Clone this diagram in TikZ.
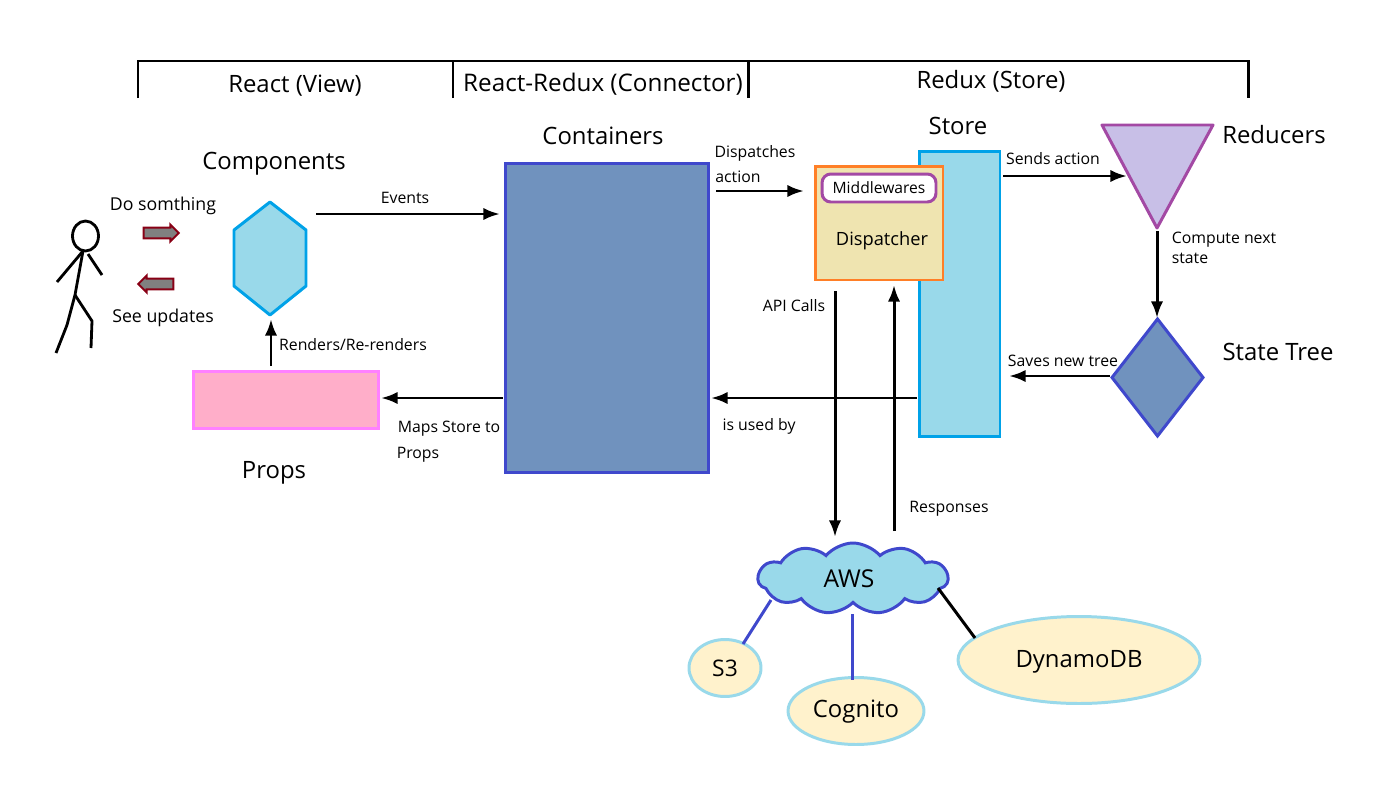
\documentclass[tikz,border=0pt]{standalone}
\usepackage{fontspec}
\setmainfont{Open Sans}
\usetikzlibrary{arrows.meta,shapes.geometric,shapes.symbols,shapes.arrows}
\definecolor{skyfill}{HTML}{99D9EA}
\definecolor{skyline}{HTML}{00A2E8}
\definecolor{steelfill}{HTML}{7092BE}
\definecolor{indigoline}{HTML}{3F48CC}
\definecolor{creamfill}{HTML}{FFF2CC}
\definecolor{sandfill}{HTML}{EFE4B0}
\definecolor{orangeline}{HTML}{FF7F27}
\definecolor{purpleline}{HTML}{A349A4}
\definecolor{lilacfill}{HTML}{C8BFE7}
\definecolor{pinkfill}{HTML}{FFAEC9}
\definecolor{pinkline}{HTML}{FF80FF}
\definecolor{darkred}{HTML}{880015}
\tikzset{
  big/.style={font=\fontsize{13.6}{16}\selectfont,inner sep=0pt},
  small/.style={font=\fontsize{9}{11}\selectfont,inner sep=0pt},
  mid/.style={font=\fontsize{10.1}{12}\selectfont,inner sep=0pt},
  conn/.style={-{Latex[length=9.5pt,width=7pt]},line width=1.7pt},
  solidbox/.style={draw,line width=1.7pt,inner sep=0pt,outer sep=0pt},
  ovalbox/.style={solidbox,ellipse,draw=skyfill,fill=creamfill,font=\fontsize{13.6}{16}\selectfont},
  hand/.style={single arrow,draw=darkred,fill=gray,line width=1.2pt,minimum width=9.5pt,minimum height=20pt,single arrow head extend=1pt,inner sep=1.2pt},
  stick/.style={line width=1.6pt},
  link/.style={line width=1.7pt},
}
\begin{document}
\begin{tikzpicture}[x=0.02cm,y=-0.02cm]
    \useasboundingbox (0,0) rectangle (1393,788);

    % layer bracket
    \coordinate (bracketA) at (138,98);
    \coordinate (bracketB) at (1248,98);
    \coordinate (tickA) at (453,98);
    \coordinate (tickB) at (748,98);
    \draw[link] (bracketA)--(138,61)--(1248,61)--(bracketB);
    \draw[link] (tickA)--(453,61);
    \draw[link] (tickB)--(748,61);
    \node[big] (viewTitle) at (295,86) {React (View)};
    \node[big,font=\fontsize{13.8}{16}\selectfont] (connTitle) at (603,84) {React-Redux (Connector)};
    \node[big] (storeLayer) at (991,81) {Redux (Store)};

    % user
    \draw[stick] (85.5,236) ellipse (13 and 15);
    \draw[stick] (83,251)--(57,282);
    \draw[stick] (88,254)--(102,275);
    \draw[stick] (83,251)--(75,295)--(67,325)--(56,353);
    \draw[stick] (75,295)--(92,321)--(91,348);
    \node[mid] (doLabel) at (163,206) {Do somthing};
    \node[mid] (seeLabel) at (163,318) {See updates};
    \node[hand] (doArrow) at (158.5,233) {};
    \node[hand,shape border rotate=180] (seeArrow) at (158.5,284) {};

    % components
    \node[big] (compTitle) at (274,164) {Components};
    \coordinate (compsN) at (270,202);
    \coordinate (compsS) at (270,315);
    \draw[line width=1.7pt,draw=skyline,fill=skyfill,line join=round] (compsN)--(306,230)--(306,286)--(compsS)--(234,286)--(234,230)--cycle;

    % props
    \node[solidbox,draw=pinkline,fill=pinkfill,minimum width=3.72cm,minimum height=1.14cm] (props) at (286,400) {};
    \node[big] (propsTitle) at (274,473) {Props};
    \node[small] (rendersLabel) at (353,345) {Renders/Re-renders};

    % containers
    \node[big] (contTitle) at (603,136) {Containers};
    \node[solidbox,draw=indigoline,fill=steelfill,minimum width=4.08cm,minimum height=6.2cm] (containers) at (607,318) {};
    \coordinate (eventsStart) at (316,214);
    \node[small] (eventsLabel) at (405,198) {Events};
    \node[small] (mapsLabel) at (449,429) {Maps Store to};
    \node[small] (mapsLabelB) at (418,455) {Props};
    \node[small] (dispLabel) at (755,153) {Dispatches};
    \node[small] (dispLabelB) at (738,177) {action};
    \node[small] (usedLabel) at (759,426) {is used by};

    % store and dispatcher
    \node[big] (storeTitle) at (958,126) {Store};
    \node[solidbox,draw=skyline,fill=skyfill,minimum width=1.62cm,minimum height=5.72cm] (store) at (959.5,294) {};
    \node[solidbox,draw=orangeline,fill=sandfill,minimum width=2.56cm,minimum height=2.28cm] (dispatcher) at (879,223) {};
    \node[font=\fontsize{10.4}{12}\selectfont,inner sep=0pt] (dispText) at (882,241) {Dispatcher};
    \node[solidbox,draw=purpleline,fill=white,rounded corners=5pt,minimum width=2.28cm,minimum height=0.56cm,font=\fontsize{8.9}{10}\selectfont] (middle) at (879,188) {Middlewares};

    % reducers
    \node[big] (redTitle) at (1274,135) {Reducers};
    \coordinate (redA) at (1102,125);
    \coordinate (redB) at (1213,125);
    \coordinate (redC) at (1157,228);
    \draw[line width=1.7pt,draw=purpleline,fill=lilacfill,line join=round] (redA)--(redB)--(redC)--cycle;
    \node[small] (sendsLabel) at (1053,159) {Sends action};
    \node[small] (computeLabel) at (1224,240) {Compute next};
    \node[small] (computeLabelB) at (1190,258) {state};

    % state tree
    \node[big] (treeTitle) at (1278,352) {State Tree};
    \node[solidbox,draw=indigoline,fill=steelfill,diamond,aspect=0.78,minimum width=1.82cm,minimum height=2.34cm] (tree) at (1157.5,377.5) {};
    \node[small] (savesLabel) at (1063,361) {Saves new tree};

    % aws
    \node[solidbox,draw=indigoline,fill=skyfill,cloud,cloud puffs=11,cloud puff arc=100,aspect=2.7,minimum width=3.8cm,minimum height=1.42cm] (aws) at (853,578.5) {};
    \node[font=\fontsize{14}{16}\selectfont,inner sep=0pt] (awsText) at (849,579) {AWS};
    \node[ovalbox,minimum width=1.44cm,minimum height=1.14cm,font=\fontsize{13}{15}\selectfont] (s3) at (725,668) {S3};
    \node[ovalbox,minimum width=2.72cm,minimum height=1.34cm,text height=1.1em] (cognito) at (856,711) {Cognito};
    \node[ovalbox,minimum width=4.84cm,minimum height=1.74cm,text height=1.15em] (dynamo) at (1079,660) {DynamoDB};
    \node[small] (apiLabel) at (794,306) {API Calls};
    \node[small] (respLabel) at (949,509) {Responses};

    % free ends
    \coordinate (dispStart) at (716,191);
    \coordinate (dispEnd) at (804,191);
    \coordinate (sendsStart) at (1003,176);
    \coordinate (sendsEnd) at (1127,176);
    \coordinate (computeStart) at (1157,231);
    \coordinate (computeEnd) at (1157,318);
    \coordinate (savesStart) at (1110,376);
    \coordinate (savesEnd) at (1009,376);
    \coordinate (usedStart) at (917,398);
    \coordinate (usedEnd) at (711,398);
    \coordinate (mapsStart) at (503,398);
    \coordinate (mapsEnd) at (381,398);
    \coordinate (rendStart) at (271,366);
    \coordinate (rendEnd) at (271,319);
    \coordinate (eventsEnd) at (500,214);
    \coordinate (apiStart) at (835,291);
    \coordinate (apiEnd) at (835,537);
    \coordinate (respStart) at (894,531);
    \coordinate (respEnd) at (894,285);
    \coordinate (linkS) at (771,600);
    \coordinate (linkT) at (743,644);
    \coordinate (linkC) at (852,614);
    \coordinate (linkD) at (852,680);
    \coordinate (linkE) at (938,588);
    \coordinate (linkF) at (975,638);

    % connectors
    \draw[conn] (eventsStart) to (eventsEnd);
    \draw[conn] (dispStart) to (dispEnd);
    \draw[conn] (sendsStart) to (sendsEnd);
    \draw[conn] (computeStart) to (computeEnd);
    \draw[conn] (savesStart) to (savesEnd);
    \draw[conn] (usedStart) to (usedEnd);
    \draw[conn] (mapsStart) to (mapsEnd);
    \draw[conn] (rendStart) to (rendEnd);
    \draw[conn] (apiStart) to (apiEnd);
    \draw[conn] (respStart) to (respEnd);
    \draw[link,indigoline] (linkS) to (linkT);
    \draw[link,indigoline] (linkC) to (linkD);
    \draw[link] (linkE) to (linkF);
\end{tikzpicture}
\end{document}
